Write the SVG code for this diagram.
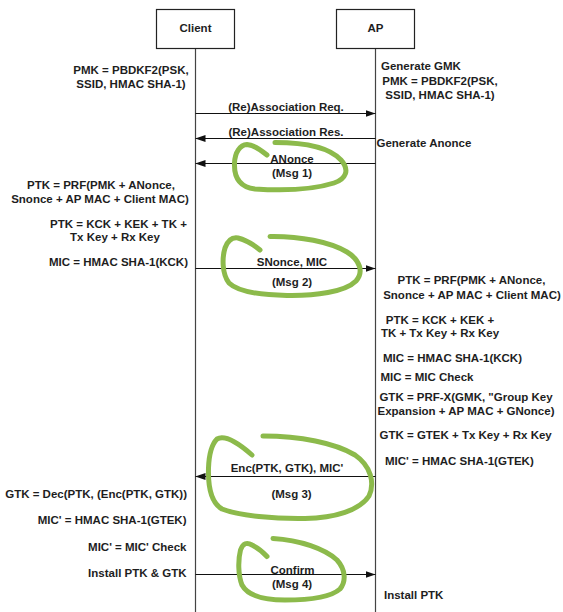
<svg xmlns="http://www.w3.org/2000/svg" width="563" height="612" viewBox="0 0 563 612">
<style>
text{font-family:"Liberation Sans",Arial,sans-serif;font-weight:bold;font-size:11.5px;fill:#1e1e1e}
.m{text-anchor:middle}
.e{text-anchor:end}
.box{fill:#fff;stroke:#222;stroke-width:1.2}
.life{stroke:#444;stroke-width:1.2}
.msg{stroke:#111;stroke-width:1.1;fill:none;marker-end:url(#ah)}
.loop{fill:none;stroke:#8cba4b;stroke-width:5;stroke-linecap:round;stroke-linejoin:round}
</style>
<defs>
<marker id="ah" markerUnits="userSpaceOnUse" markerWidth="10" markerHeight="7" refX="10" refY="3.5" orient="auto">
<path d="M0,0 L10,3.5 L0,7 z" fill="#111"/>
</marker>
</defs>
<rect width="563" height="612" fill="#fff"/>
<g id="client">
<line class="life" x1="195.5" y1="48" x2="195.5" y2="612"/>
<rect class="box" x="156.5" y="9.5" width="78" height="39"/>
<text class="m" x="195.5" y="32">Client</text>
</g>
<g id="ap">
<line class="life" x1="375.5" y1="48" x2="375.5" y2="612"/>
<rect class="box" x="336.5" y="9.5" width="78" height="39"/>
<text class="m" x="375.5" y="32">AP</text>
</g>
<g id="connectors">
<line class="msg" x1="195.5" y1="113.5" x2="375.5" y2="113.5"/>
<line class="msg" x1="375.5" y1="138.5" x2="195.5" y2="138.5"/>
<line class="msg" x1="375.5" y1="163.5" x2="195.5" y2="163.5"/>
<line class="msg" x1="195.5" y1="268.5" x2="375.5" y2="268.5"/>
<line class="msg" x1="375.5" y1="476.5" x2="195.5" y2="476.5"/>
<line class="msg" x1="195.5" y1="574.5" x2="375.5" y2="574.5"/>
</g>
<g id="labels">
<text class="m" x="286" y="111">(Re)Association Req.</text>
<text class="m" x="286" y="136">(Re)Association Res.</text>
<text class="m" x="292" y="163">ANonce</text>
<text class="m" x="292" y="176.5">(Msg 1)</text>
<text class="m" x="292" y="265.5">SNonce, MIC</text>
<text class="m" x="292" y="286">(Msg 2)</text>
<text class="m" x="287" y="471.5">Enc(PTK, GTK), MIC'</text>
<text class="m" x="291.5" y="497.5">(Msg 3)</text>
<text class="m" x="292.5" y="574">Confirm</text>
<text class="m" x="292" y="587.5">(Msg 4)</text>
</g>
<g id="client-notes">
<text class="m" x="131" y="73.5">PMK = PBDKF2(PSK,</text>
<text class="m" x="131" y="87.5">SSID, HMAC SHA-1)</text>
<text class="m" x="101" y="188.5">PTK = PRF(PMK + ANonce,</text>
<text class="m" x="100" y="202.5">Snonce + AP MAC + Client MAC)</text>
<text class="m" x="118.5" y="227.5">PTK = KCK + KEK + TK +</text>
<text class="m" x="115" y="241">Tx Key + Rx Key</text>
<text class="e" x="188" y="266">MIC = HMAC SHA-1(KCK)</text>
<text class="e" x="187" y="497.5">GTK = Dec(PTK, (Enc(PTK, GTK))</text>
<text class="e" x="186.5" y="523.5">MIC' = HMAC SHA-1(GTEK)</text>
<text class="e" x="186.5" y="551">MIC' = MIC' Check</text>
<text class="e" x="186.5" y="577">Install PTK &amp; GTK</text>
</g>
<g id="ap-notes">
<text x="381" y="70">Generate GMK</text>
<text class="m" x="440" y="85">PMK = PBDKF2(PSK,</text>
<text class="m" x="440" y="99">SSID, HMAC SHA-1)</text>
<text x="376.5" y="147">Generate Anonce</text>
<text class="m" x="471.5" y="284">PTK = PRF(PMK + ANonce,</text>
<text class="m" x="472" y="298.5">Snonce + AP MAC + Client MAC)</text>
<text class="m" x="440" y="323.5">PTK = KCK + KEK +</text>
<text class="m" x="440" y="337">TK + Tx Key + Rx Key</text>
<text x="383" y="362">MIC = HMAC SHA-1(KCK)</text>
<text x="380.5" y="381">MIC = MIC Check</text>
<text class="m" x="466" y="401">GTK = PRF-X(GMK, "Group Key</text>
<text class="m" x="466" y="414.5">Expansion + AP MAC + GNonce)</text>
<text x="379.5" y="439">GTK = GTEK + Tx Key + Rx Key</text>
<text x="385" y="465">MIC' = HMAC SHA-1(GTEK)</text>
<text x="384" y="599">Install PTK</text>
</g>
<g id="annotations">
<path class="loop" d="M275,142.5 C305,142.5 330,148 341,160 C350,170 346,179 334,183 C315,189 285,191 255,189 C238,187 234,175 234.5,163 C235,152 240,145 247,144.5 C254,145 261,150 267,155"/>
<path class="loop" d="M270,236.5 C300,236 330,242 347,252 C360,260 364,272 356,281 C345,292 315,296 287,295.5 C262,295 238,292 229,283 C222,274 222,258 225,248 C228,240 232,237 238,238 C246,240 254,245 260,250"/>
<path class="loop" d="M263,436 C300,436 335,443 355,455 C371,466 375,483 369,496 C360,510 335,518 305,518.5 C275,519 240,516 222,509 C210,502 208,485 208.5,468 C209,455 211,445 217,439 C224,435 235,440 252,455"/>
<path class="loop" d="M273,538.5 C300,540 325,549 337,560 C346,570 346,582 340,589 C330,598 305,600 285,600 C265,600 248,596 242,585 C238,575 238,560 240.5,550 C243,543 247,542 252,545 C258,548 263,552 267,556.5"/>
</g>
</svg>
